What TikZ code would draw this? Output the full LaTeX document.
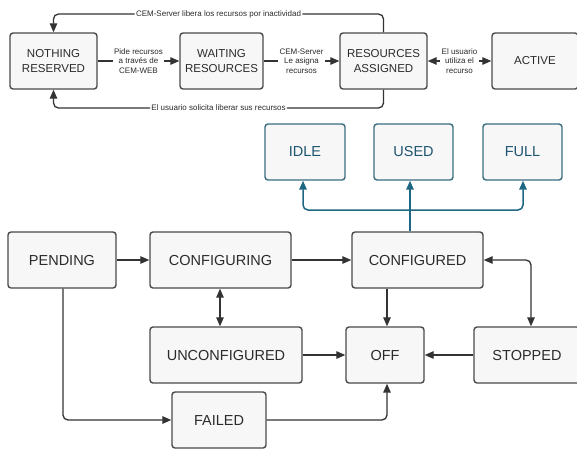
\documentclass[tikz,border=0pt]{standalone}
\usepackage{fontspec}
\setmainfont{Liberation Sans}
\usetikzlibrary{arrows.meta}
\definecolor{boxline}{HTML}{4A4A4A}
\definecolor{boxfill}{HTML}{F7F7F7}
\definecolor{txtcol}{HTML}{2B2B2B}
\definecolor{linecol}{HTML}{333333}
\definecolor{tealborder}{HTML}{3A6C80}
\definecolor{tealtext}{HTML}{1E5570}
\definecolor{tealarrow}{HTML}{1E6782}
\tikzset{
  basebox/.style={draw=boxline, fill=boxfill, line width=1.4pt, rounded corners=3pt,
    text=txtcol, align=center, inner sep=0pt},
  stbox/.style={basebox, minimum height=56pt, font=\fontsize{14.5}{17}\selectfont},
  topbox/.style={basebox, minimum height=56pt, font=\fontsize{11.5}{15}\selectfont},
  tealbox/.style={basebox, draw=tealborder, text=tealtext, minimum height=56pt,
    font=\fontsize{14.5}{17}\selectfont},
  lbl/.style={fill=white, text=txtcol, align=center, inner sep=1.5pt,
    font=\fontsize{8}{9.5}\selectfont},
  tip/.tip={Triangle[length=9pt,width=7.5pt]},
  arr/.style={draw=linecol, line width=1.3pt, -tip},
  arrboth/.style={draw=linecol, line width=1.3pt, tip-tip},
  tarr/.style={draw=tealarrow, line width=1.5pt, -tip}
}
\begin{document}
\begin{tikzpicture}[x=1pt,y=-1pt]
\useasboundingbox (0,0) rectangle (577,448);
\clip (0,0) rectangle (577,448);

% top row
\node[topbox, minimum width=87pt] (nr) at (53.5,61) {NOTHING\\RESERVED};
\node[topbox, minimum width=83pt] (wr) at (221.5,61) {WAITING\\RESOURCES};
\node[topbox, minimum width=87pt] (ra) at (383.5,61) {RESOURCES\\ASSIGNED};
\node[topbox, minimum width=86pt] (act) at (535,61) {ACTIVE};

\draw[arr] (nr) -- node[lbl]{Pide recursos\\a través de\\CEM-WEB} (wr);
\draw[arr] (wr) -- node[lbl]{CEM-Server\\Le asigna\\recursos} (ra);
\draw[arrboth] (ra) -- node[lbl]{El usuario\\utiliza el\\recurso} (act);

\coordinate (ttop) at (0,14);
\coordinate (tbot) at (0,108);
\draw[arr, rounded corners=5pt] (ra.north) -- (ra.north |- ttop)
  -- node[lbl]{CEM-Server libera los recursos por inactividad} (nr.north |- ttop) -- (nr.north);
\draw[arr, rounded corners=5pt] (ra.south) -- (ra.south |- tbot)
  -- node[lbl]{El usuario solicita liberar sus recursos} (nr.south |- tbot) -- (nr.south);

% teal boxes
\node[tealbox, minimum width=80pt] (idle) at (305,152) {IDLE};
\node[tealbox, minimum width=79pt] (used) at (413.5,152) {USED};
\node[tealbox, minimum width=79pt] (full) at (522.5,152) {FULL};

% lower states
\node[stbox, minimum width=108pt] (pend) at (62,260) {PENDING};
\node[stbox, minimum width=141pt] (cfging) at (220.5,260) {CONFIGURING};
\node[stbox, minimum width=131pt] (cfgd) at (417.5,260) {CONFIGURED};
\node[stbox, minimum width=152pt] (uncfg) at (226,355) {UNCONFIGURED};
\node[stbox, minimum width=78pt] (off) at (385,355) {OFF};
\node[stbox, minimum width=106pt] (stop) at (527,355) {STOPPED};
\node[stbox, minimum width=94pt] (fail) at (219,420) {FAILED};

% teal connectors
\coordinate (tsplit) at (410,210);
\draw[tarr] (cfgd.north -| tsplit) -- (used.south -| tsplit);
\draw[tarr, rounded corners=5pt] (tsplit) -- (tsplit -| 303,0) -- (idle.south -| 303,0);
\draw[tarr, rounded corners=5pt] (tsplit) -- (tsplit -| 523,0) -- (full.south -| 523,0);

% lower connectors
\draw[arr] (pend) -- (cfging);
\draw[arr] (cfging) -- (cfgd);
\draw[arrboth] (cfging.south -| 220,0) -- (uncfg.north -| 220,0);
\draw[arr] (cfgd.south -| 387,0) -- (off.north -| 387,0);
\draw[arr] (uncfg) -- (off);
\draw[arr] (stop) -- (off);
\coordinate (cs) at (531,260);
\draw[arrboth, rounded corners=5pt] (cfgd.east) -- (cs) -- (stop.north -| cs);
\coordinate (pf) at (63,420);
\draw[arr, rounded corners=5pt] (pend.south -| pf) -- (pf) -- (fail.west);
\coordinate (fo) at (387,420);
\draw[arr, rounded corners=5pt] (fail.east) -- (fo) -- (off.south -| fo);
\end{tikzpicture}
\end{document}
